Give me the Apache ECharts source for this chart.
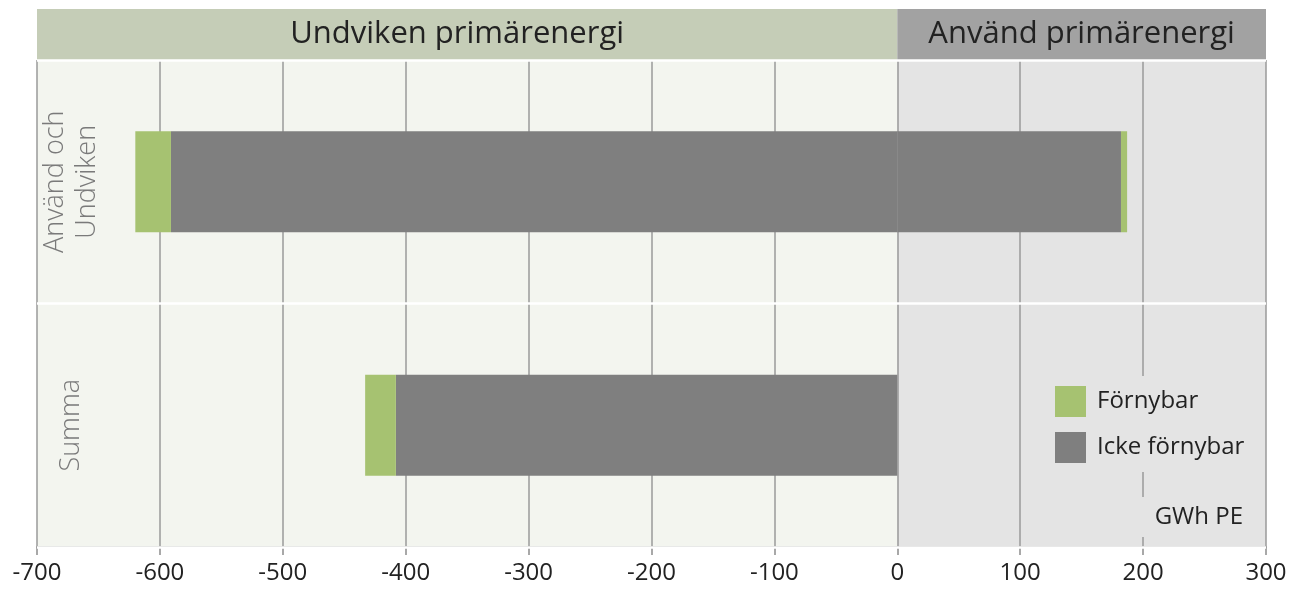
<!DOCTYPE html>
<html>
<head>
<meta charset="utf-8">
<script src="https://cdn.jsdelivr.net/npm/echarts@6/dist/echarts.min.js"></script>
<style>
  html, body { margin: 0; padding: 0; background: #fff; }
  #chart { width: 1307px; height: 601px; }
</style>
</head>
<body>
<div id="chart"></div>
<script>
// kategorier (uppifrån och ned)
const categories = ["Använd och\nUndviken", "Summa"];
// undviken primärenergi (negativ) och använd (positiv), GWh PE
const ickeUndviken = [-591, -408];
const fornyUndviken = [-29, -25];
const ickeAnvand = [182, 0];
const fornyAnvand = [5, 0];
const xMin = -700;
const xMax = 300;
const xStep = 100;
const headers = ["Undviken primärenergi", "Använd primärenergi"];

const green = "#a6c271";
const grey = "#7f7f7f";
const font = "Open Sans";

const chart = echarts.init(document.getElementById("chart"));

const option = {
  backgroundColor: "#ffffff",
  textStyle: { fontFamily: font },
  animation: false,
  title: {
    text: "GWh PE",
    right: 50,
    top: 497,
    backgroundColor: "#e4e4e4",
    padding: [8, 14],
    textStyle: { fontFamily: font, fontSize: 24, fontWeight: "normal", color: "#222" },
  },
  legend: {
    data: ["Förnybar", "Icke förnybar"],
    orient: "vertical",
    left: 1045,
    top: 376,
    itemWidth: 31,
    itemHeight: 31,
    itemGap: 15,
    padding: [10, 12, 9, 10],
    backgroundColor: "#e4e4e4",
    icon: "rect",
    textStyle: { fontFamily: font, fontSize: 24, color: "#222", padding: [0, 0, 0, 6] },
  },
  grid: [
    { left: 37, right: 41, top: 60, bottom: 54 },
    { left: 37, right: 41, top: 9, height: 51 },
  ],
  xAxis: [
    {
      gridIndex: 0,
      type: "value",
      min: xMin,
      max: xMax,
      interval: xStep,
      axisLine: { show: true, onZero: false, lineStyle: { color: "#8c8c8c", width: 1.5 } },
      axisTick: { show: true, length: 8, lineStyle: { color: "#8c8c8c", width: 1.5 } },
      axisLabel: { fontFamily: font, fontSize: 24, color: "#222", margin: 14 },
      splitLine: { show: true, lineStyle: { color: "#9a9a9a", width: 1.5 } },
    },
    {
      gridIndex: 1,
      type: "value",
      min: xMin,
      max: xMax,
      show: false,
    },
  ],
  yAxis: [
    {
      gridIndex: 0,
      type: "category",
      inverse: true,
      data: [
        { value: categories[0], textStyle: { verticalAlign: "middle", padding: [18, 0, 0, 0] } },
        categories[1],
      ],
      axisLine: { show: false },
      axisTick: { show: false },
      axisLabel: {
        inside: true,
        rotate: 90,
        margin: 34,
        fontFamily: font,
        fontWeight: 300,
        fontSize: 27,
        lineHeight: 32,
        color: "#7a7a7a",
        align: "center",
        verticalAlign: "middle",
      },
      splitLine: { show: true, lineStyle: { color: "#ffffff", width: 2.5 } },
      z: 5,
    },
    {
      gridIndex: 1,
      type: "value",
      min: 0,
      max: 1,
      show: false,
    },
  ],
  series: [
    {
      // bakgrund i diagramytan
      name: "bakgrund",
      type: "line",
      data: [],
      z: -5,
      markArea: {
        silent: true,
        z: -5,
        data: [
          [{ xAxis: xMin, itemStyle: { color: "#f3f5ef" } }, { xAxis: 0 }],
          [{ xAxis: 0, itemStyle: { color: "#e4e4e4" } }, { xAxis: xMax }],
        ],
      },
    },
    {
      name: "Icke förnybar",
      type: "bar",
      stack: "total",
      barWidth: 101,
      itemStyle: { color: grey },
      data: ickeUndviken,
    },
    {
      name: "Förnybar",
      type: "bar",
      stack: "total",
      barWidth: 101,
      itemStyle: { color: green },
      data: fornyUndviken,
    },
    {
      name: "Icke förnybar",
      type: "bar",
      stack: "total",
      barWidth: 101,
      itemStyle: { color: grey },
      data: ickeAnvand,
    },
    {
      name: "Förnybar",
      type: "bar",
      stack: "total",
      barWidth: 101,
      itemStyle: { color: green },
      data: fornyAnvand,
    },
    {
      name: "header",
      type: "line",
      xAxisIndex: 1,
      yAxisIndex: 1,
      data: [],
      markArea: {
        silent: true,
        label: {
          show: true,
          position: "inside",
          fontFamily: font,
          fontSize: 31,
          color: "#222",
        },
        data: [
          [{ name: headers[0], xAxis: xMin, itemStyle: { color: "#c5cdb7" }, label: { offset: [-10, 0] } }, { xAxis: 0 }],
          [{ name: headers[1], xAxis: 0, itemStyle: { color: "#a2a2a2" } }, { xAxis: xMax }],
        ],
      },
    },
  ],
};

chart.setOption(option);
</script>
</body>
</html>
